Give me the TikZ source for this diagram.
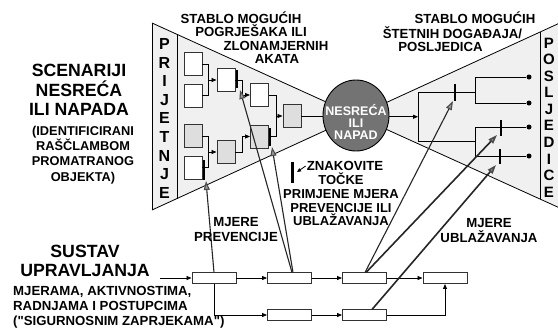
\documentclass[tikz,border=0pt]{standalone}
\usepackage{fontspec}
\setmainfont{Liberation Sans}[Ligatures=TeXOff]
\usetikzlibrary{arrows.meta,shapes.geometric,calc}
\begin{document}
\begin{tikzpicture}[x=1pt,y=-1pt,
  tb/.style={draw=black!80, line width=0.9pt, minimum width=18pt, minimum height=23pt, inner sep=0pt, fill=white},
  tbg/.style={tb, fill=black!13},
  bb/.style={draw=black!80, line width=0.9pt, minimum width=44pt, minimum height=11pt, inner sep=0pt, fill=white},
  sarr/.style={-{Triangle[length=5pt,width=4pt]}, line width=0.8pt},
  conn/.style={line width=0.8pt},
  mbar/.style={line width=2.6pt},
  larr/.style={line width=1.1pt, draw=black!85, -{Triangle[length=9pt,width=6pt,color=black!70,fill=black!40]}},
  dotn/.style={circle, fill=black, inner sep=0pt, minimum size=5pt},
  txt/.style={font=\bfseries\fontsize{13.2}{15}\selectfont, inner sep=0pt, align=center},
  big/.style={font=\bfseries\fontsize{17.7}{19.7}\selectfont, inner sep=0pt, align=center},
  colletter/.style={font=\bfseries\fontsize{16}{16}\selectfont, inner sep=0pt},
  ]
\useasboundingbox (0,0) rectangle (558,330);
\fill[white] (0,0) rectangle (558,330);

% bow tie
\coordinate (tl) at (152,23);
\coordinate (bl) at (152,210);
\coordinate (ctr) at (357,116);
\coordinate (tr) at (558,23.8);
\coordinate (br) at (558,207.2);
\fill[black!6] (tl) -- (ctr) -- (bl) -- cycle;
\fill[black!6] (tr) -- (ctr) -- (br) -- cycle;
\draw[conn] (tl) -- (br);
\draw[conn] (bl) -- (tr);
\draw[conn] (tl) -- (bl);
\coordinate (il1) at (177,34.3);
\coordinate (il2) at (177,198.5);
\draw[conn] (il1) -- (il2);
\coordinate (ir1) at (540,32.1);
\coordinate (ir2) at (540,199);
\draw[conn] (ir1) -- (ir2);

% column letters
\foreach \c [count=\i] in {P,R,I,J,E,T,N,J,E}
  \node[colletter] (pl\i) at (164.5,{44+(\i-1)*18.6}) {\c};
\foreach \c [count=\i] in {P,O,S,L,J,E,D,I,C,E}
  \node[colletter, font=\bfseries\fontsize{15}{15}\selectfont] (pr\i) at (549,{43+(\i-1)*16.55}) {\c};

% left tree
\node[tb]  (A) at (193,64) {};
\node[tb]  (B) at (193,95.5) {};
\node[tbg] (C) at (193,136) {};
\node[tb]  (D) at (193,167.5) {};
\node[tb]  (E) at (226,80) {};
\node[tbg] (F) at (226,152) {};
\node[tb]  (G) at (259.5,95) {};
\node[tbg] (H) at (259.5,136.5) {};
\node[tbg] (I) at (292,116) {};

\draw[conn] (A.east) -- ++(6,0) coordinate (a1) -- (a1 |- B.east) -- (B.east);
\draw[sarr] (a1 |- E.west) -- (E.west);
\draw[conn] (C.east) -- ++(6,0) coordinate (a2) -- (a2 |- D.east) -- (D.east);
\draw[sarr] (a2 |- F.west) -- (F.west);
\draw[sarr] (E.east) -- ++(7,0) |- (G.west);
\draw[sarr] (F.east) -- ++(7,0) |- (H.west);
\draw[conn] (G.east) -- ++(7,0) coordinate (a3) -- (a3 |- H.east) -- (H.east);
\draw[sarr] (a3 |- I.west) -- (I.west);

% circle
\node[ellipse, draw=black, line width=0.9pt, fill=black!55, minimum width=66pt, minimum height=71pt, inner sep=0pt] (circ) at (356,115.5) {};
\node[txt, text=white, font=\bfseries\fontsize{12.5}{12}\selectfont] (circtxt) at (356,121.5) {NESREĆA\\ILI\\NAPAD};
\draw[conn] (I.east) -- (I.east -| circ.west);

% right tree
\coordinate (r0) at (418,116.75);
\coordinate (r1) at (418,92);
\coordinate (r2) at (418,141.5);
\coordinate (u0) at (475,92);
\coordinate (u1) at (475,77);
\coordinate (u2) at (475,103);
\coordinate (w0) at (475,141.5);
\coordinate (w1) at (475,127);
\coordinate (w2) at (475,156);
\node[dotn] (d1) at (529,77) {};
\node[dotn] (d2) at (529,103) {};
\node[dotn] (d3) at (529,127) {};
\node[dotn] (d4) at (529,156) {};
\draw[sarr] (circ.east |- r0) -- (r0);
\draw[conn] (r1) -- (r2);
\draw[conn] (r1) -- (u0);
\draw[conn] (r2) -- (w0);
\draw[conn] (u1) -- (u2);
\draw[conn] (w1) -- (w2);
\draw[conn] (u1) -- (d1);
\draw[conn] (u2) -- (d2);
\draw[conn] (w1) -- (d3);
\draw[conn] (w2) -- (d4);

% markers
\coordinate (mE1) at (237,70);  \coordinate (mE2) at (237,88);
\coordinate (mH1) at (270,128); \coordinate (mH2) at (270,146);
\coordinate (mD1) at (204,160); \coordinate (mD2) at (204,180);
\coordinate (mU1) at (455,84);  \coordinate (mU2) at (455,101);
\coordinate (mW1) at (501,120); \coordinate (mW2) at (501,136);
\coordinate (mV1) at (500,149); \coordinate (mV2) at (500,164);
\foreach \m in {E,H,D,U,W,V} \draw[mbar] (m\m1) -- (m\m2);

% bottom boxes
\coordinate (inp) at (160,278);
\node[bb] (b1) at (214,278) {};
\node[bb] (b2) at (289.5,278) {};
\node[bb] (b3) at (364.5,278) {};
\node[bb] (b4) at (445,278) {};
\node[bb] (b5) at (289.5,315) {};
\node[bb] (b6) at (364.5,315) {};
\draw[sarr] (inp) -- (b1.west);
\draw[sarr] (b1.east) -- (b2.west);
\draw[sarr] (b2.east) -- (b3.west);
\draw[sarr] (b3.east) -- (b4.west);
\draw[sarr] (b1.south) |- (b5.west);
\draw[sarr] (b5.east) -- (b6.west);
\draw[sarr] (b6.east) -| (b4.south);

% long arrows
\coordinate (s1) at (214,272.5);
\coordinate (s2a) at (292,272.5);
\coordinate (s2b) at (293,272.5);
\coordinate (s3a) at (365,272.5);
\coordinate (s3b) at (366,272.5);
\coordinate (s6) at (372,309.5);
\coordinate (t1) at (206,181);
\coordinate (t2) at (240,90);
\coordinate (t3) at (272,147);
\coordinate (t4) at (453,101);
\coordinate (t5) at (497,135);
\coordinate (t6) at (496,165);
\draw[larr] (s1) -- (t1);
\draw[larr] (s2a) -- (t2);
\draw[larr] (s2b) -- (t3);
\draw[larr] (s3a) -- (t4);
\draw[larr, line width=1.6pt] (s3b) -- (t5);
\draw[larr, line width=1.6pt] (s6) -- (t6);

% legend
\coordinate (lg1) at (292,162);
\coordinate (lg2) at (292,183);
\draw[mbar, line width=3pt] (lg1) -- (lg2);
\node[txt] (znak) at (345,166) {ZNAKOVITE};
\coordinate (lga) at (297,172);
\draw[-{Triangle[length=4pt,width=3.5pt]}, line width=0.8pt] (znak.west) ++(-1,0) -- (lga);
\node[txt, font=\bfseries\fontsize{13}{13.7}\selectfont] (lgt) at (341,199.5) {TOČKE\\PRIMJENE MJERA\\PREVENCIJE ILI\\UBLAŽAVANJA};

% texts
\node[big] (scen) at (79,90) {SCENARIJI\\NESREĆA\\ILI NAPADA};
\node[txt, font=\bfseries\fontsize{12.8}{15.3}\selectfont] (ident) at (83,155) {(IDENTIFICIRANI\\RAŠČLAMBOM\\PROMATRANOG\\OBJEKTA)};
\node[big, font=\bfseries\fontsize{17.7}{19}\selectfont] (sust) at (85,260.5) {SUSTAV\\UPRAVLJANJA};
\node[txt, align=left, anchor=west] (mjer) at (13,307.5) {MJERAMA, AKTIVNOSTIMA,\\RADNJAMA I POSTUPCIMA\\("SIGURNOSNIM ZAPRJEKAMA")};

\node[txt] (sl1) at (241,18) {STABLO MOGUĆIH};
\node[txt] (sl2) at (251,31) {POGRJEŠAKA ILI};
\node[txt] (sl3) at (276,46) {ZLONAMJERNIH};
\node[txt] (sl4) at (277,59) {AKATA};

\node[txt] (sr1) at (475,18) {STABLO MOGUĆIH};
\node[txt] (sr2) at (452.5,33) {ŠTETNIH DOGAĐAJA/};
\node[txt] (sr3) at (440.5,47) {POSLJEDICA};

\node[txt] (mprev) at (236,229.5) {MJERE\\PREVENCIJE};
\node[txt] (mubl) at (489,230.5) {MJERE\\UBLAŽAVANJA};
\end{tikzpicture}
\end{document}
